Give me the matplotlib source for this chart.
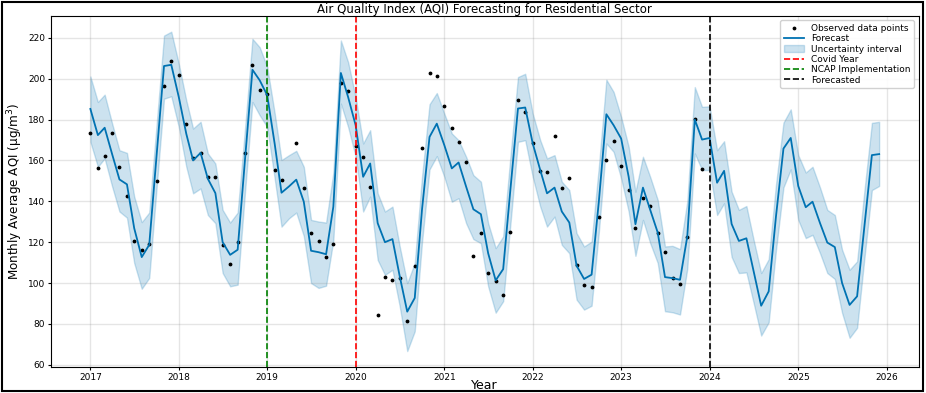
import numpy as np
import pandas as pd
import matplotlib
matplotlib.use("Agg")
import matplotlib.pyplot as plt
from matplotlib.patches import Rectangle

# monthly forecast (yhat) Jan 2017 - Dec 2025
yhat = [185.2, 172.4, 176.0, 163.0, 150.7, 148.3, 126.8, 112.7, 118.7, 162.0, 206.2, 206.8,
        191.0, 173.0, 160.0, 163.7, 151.0, 144.0, 120.0, 113.8, 116.3, 160.0, 204.4, 199.2,
        191.9, 168.0, 144.2, 147.3, 150.6, 139.8, 115.8, 115.1, 114.1, 137.4, 202.8, 191.0,
        177.2, 152.0, 158.5, 129.3, 120.0, 121.5, 103.3, 86.0, 92.7, 136.0, 171.5, 178.0,
        167.5, 156.1, 159.0, 147.2, 136.1, 133.7, 114.6, 101.3, 106.8, 146.0, 185.4, 185.9,
        168.3, 155.3, 143.9, 146.7, 135.0, 129.6, 108.5, 102.0, 104.1, 140.0, 182.6, 177.2,
        170.7, 152.0, 128.8, 146.7, 135.8, 124.7, 102.9, 102.4, 101.6, 122.8, 180.0, 170.2,
        171.0, 149.1, 154.9, 128.9, 120.6, 121.9, 105.7, 88.9, 95.9, 132.5, 165.8, 171.0,
        147.5, 137.1, 139.8, 129.3, 119.8, 117.6, 100.0, 89.3, 93.5, 127.6, 162.6, 163.1]

yhat_upper = [201.1, 188.6, 192.2, 178.0, 165.0, 163.7, 142.3, 129.8, 134.5, 177.0, 221.1, 223.0,
              207.3, 189.4, 175.6, 178.9, 163.4, 158.5, 135.8, 129.6, 134.5, 175.0, 219.5, 215.4,
              205.7, 183.0, 160.2, 162.6, 164.7, 156.9, 130.9, 130.1, 129.6, 154.0, 218.7, 208.1,
              191.0, 168.3, 174.8, 143.9, 135.0, 137.4, 117.9, 100.0, 109.8, 152.0, 187.5, 193.0,
              182.9, 173.2, 169.9, 161.8, 152.8, 149.6, 129.3, 117.1, 122.8, 162.0, 200.8, 202.4,
              182.9, 169.9, 161.0, 162.6, 149.6, 145.5, 124.4, 117.9, 120.3, 157.0, 199.5, 193.5,
              181.3, 166.7, 144.7, 161.8, 151.9, 140.7, 117.9, 118.2, 116.6, 140.0, 195.9, 186.2,
              186.5, 165.0, 169.4, 144.7, 135.8, 137.7, 121.1, 104.9, 111.7, 148.0, 178.5, 185.0,
              162.6, 154.1, 156.9, 146.7, 135.8, 133.3, 116.3, 106.5, 110.6, 145.0, 178.4, 178.9]

yhat_lower = [169.1, 156.9, 161.0, 147.2, 135.0, 132.0, 109.8, 97.2, 102.5, 146.0, 190.2, 191.4,
              176.4, 156.9, 143.9, 146.3, 133.3, 129.3, 104.9, 98.4, 99.2, 144.0, 188.6, 182.1,
              176.4, 151.0, 127.6, 131.7, 134.5, 123.0, 100.0, 97.6, 98.7, 121.0, 187.8, 176.4,
              161.8, 135.0, 142.3, 111.3, 104.0, 106.5, 88.6, 66.7, 76.4, 120.0, 155.6, 162.1,
              152.0, 139.8, 141.5, 129.3, 121.5, 119.5, 98.4, 85.5, 91.1, 129.0, 169.1, 169.9,
              152.0, 137.4, 127.6, 132.5, 118.7, 114.6, 91.9, 87.0, 88.9, 125.0, 168.3, 164.2,
              151.2, 135.0, 113.3, 130.9, 119.5, 109.8, 86.2, 85.7, 84.6, 107.0, 163.4, 155.3,
              155.3, 133.3, 139.0, 112.8, 104.9, 105.2, 90.2, 74.3, 80.8, 116.0, 146.8, 155.6,
              130.9, 122.0, 123.6, 114.6, 104.9, 102.0, 85.4, 73.2, 78.1, 112.0, 145.5, 147.5]

# observed monthly AQI Jan 2017 - Dec 2023 (Apr 2019 missing)
observed = [173.5, 156.3, 162.3, 173.5, 156.8, 142.6, 120.8, 116.3, 119.3, 150.0, 196.4, 208.6,
            201.6, 177.6, 161.1, 163.7, 151.7, 151.8, 118.7, 109.2, 120.0, 163.7, 206.5, 194.6,
            192.7, 155.4, 150.2, np.nan, 168.3, 146.7, 124.4, 120.7, 112.7, 119.2, 197.9, 194.0,
            167.3, 161.6, 147.2, 84.6, 103.1, 101.5, 102.4, 81.3, 108.5, 166.2, 202.6, 201.3,
            186.5, 176.1, 168.9, 159.0, 113.3, 124.7, 104.9, 101.0, 94.3, 125.0, 189.6, 183.7,
            168.5, 154.8, 154.1, 172.0, 146.3, 151.2, 108.6, 99.2, 98.0, 132.3, 160.2, 169.4,
            157.2, 145.3, 126.8, 141.8, 137.6, 124.4, 115.0, 102.6, 99.7, 122.3, 180.2, 156.0]

start_month = "2017-01-01"
ncap_date = "2019-01-01"
covid_date = "2020-01-01"
forecast_date = "2024-01-01"


def main():
    ds = pd.date_range(start_month, periods=len(yhat), freq="MS")
    ds_obs = ds[:len(observed)]

    fig = plt.figure(figsize=(9.26, 3.93), dpi=100)
    ax = fig.add_axes([0.055, 0.066, 0.937, 0.894])

    ax.plot(ds_obs, observed, "k.", ms=3.5, label="Observed data points")
    ax.plot(ds, yhat, ls="-", c="#0072B2", lw=1.3, label="Forecast")
    ax.fill_between(ds, yhat_lower, yhat_upper, color="#0072B2", alpha=0.2,
                    label="Uncertainty interval")
    ax.grid(True, which="major", c="gray", ls="-", lw=1, alpha=0.2)

    ax.axvline(pd.Timestamp(covid_date), color="red", ls="--", lw=1.2, label="Covid Year")
    ax.axvline(pd.Timestamp(ncap_date), color="green", ls="--", lw=1.2, label="NCAP Implementation")
    ax.axvline(pd.Timestamp(forecast_date), color="black", ls="--", lw=1.2, label="Forecasted")

    ax.tick_params(labelsize=6.5, length=2.5, pad=1.5)
    ax.set_title("Air Quality Index (AQI) Forecasting for Residential Sector", fontsize=8.5, pad=2)
    ax.set_xlabel("Year", fontsize=9, labelpad=-2)
    ax.set_ylabel("Monthly Average AQI (\u03bcg/m$^3$)", fontsize=9.5, labelpad=2,
                  family=["Liberation Sans Narrow", "DejaVu Sans"], fontstretch="condensed")
    ax.legend(loc="upper right", fontsize=6.5, handlelength=2.2, labelspacing=0.15,
              borderpad=0.4, framealpha=0.9)

    # black frame around the whole picture
    fig.patches.append(Rectangle((0.002, 0.004), 0.995, 0.99, transform=fig.transFigure,
                                 fill=False, edgecolor="black", lw=1.5))

    fig.savefig("out.png", dpi=100)
    plt.close(fig)


if __name__ == "__main__":
    main()
